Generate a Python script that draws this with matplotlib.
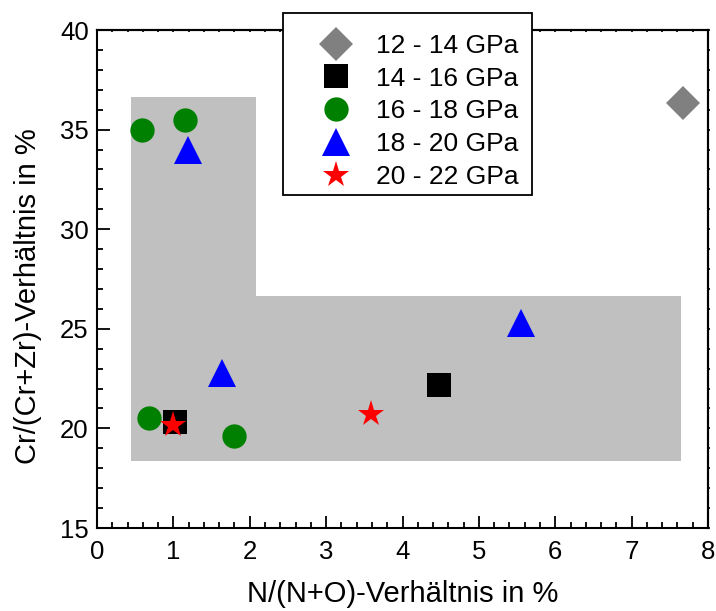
import matplotlib
matplotlib.use("Agg")
import matplotlib.pyplot as plt
from matplotlib.patches import Polygon, Rectangle
from matplotlib.ticker import MultipleLocator, NullFormatter

plt.rcParams['font.family'] = ['Liberation Sans', 'DejaVu Sans']

# Composition ratios (N/(N+O) in %, Cr/(Cr+Zr) in %) grouped by hardness range
labels = ["12 - 14 GPa", "14 - 16 GPa", "16 - 18 GPa", "18 - 20 GPa", "20 - 22 GPa"]
x_12_14 = [7.67]
y_12_14 = [36.35]
x_14_16 = [1.02, 4.48]
y_14_16 = [20.3, 22.2]
x_16_18 = [0.59, 1.15, 0.68, 1.79]
y_16_18 = [35.0, 35.5, 20.5, 19.6]
x_18_20 = [1.19, 1.64, 5.55]
y_18_20 = [34.0, 22.8, 25.3]
x_20_22 = [0.99, 3.59]
y_20_22 = [20.15, 20.7]

# Outline of the shaded region
region_x = [0.44, 2.08, 2.08, 7.64, 7.64, 0.44]
region_y = [36.65, 36.65, 26.65, 26.65, 18.35, 18.35]

W, H = 716, 611
fig = plt.figure(figsize=(W / 100, H / 100), dpi=100)
ax = fig.add_axes([97 / W, 1 - 528 / H, (708 - 97) / W, (528 - 30) / H])

ax.add_patch(Polygon(list(zip(region_x, region_y)), closed=True,
                     facecolor="#c0c0c0", edgecolor="none", zorder=1))

ax.plot(x_12_14, y_12_14, "D", color="#808080", ms=17.5, mew=0, ls="none", label=labels[0], zorder=3)
ax.plot(x_14_16, y_14_16, "s", color="black", ms=17, mew=0, ls="none", label=labels[1], zorder=3)
ax.plot(x_16_18, y_16_18, "o", color="green", ms=17.5, mew=0, ls="none", label=labels[2], zorder=3)
ax.plot(x_18_20, y_18_20, "^", color="blue", ms=19.5, mew=0, ls="none", label=labels[3], zorder=3)
ax.plot(x_20_22, y_20_22, "*", color="red", ms=19.5, mew=0, ls="none", label=labels[4], zorder=4)

ax.set_xlim(0, 8)
ax.set_ylim(15, 40)
ax.xaxis.set_major_locator(MultipleLocator(1))
ax.xaxis.set_minor_locator(MultipleLocator(0.2))
ax.yaxis.set_major_locator(MultipleLocator(5))
ax.yaxis.set_minor_locator(MultipleLocator(1))

ax.tick_params(which="both", direction="in", width=1.3, labelsize=18.5, colors="black")
ax.tick_params(which="major", length=9)
ax.tick_params(which="minor", length=4.5)
ax.tick_params(axis="x", which="major", pad=8.5)
ax.tick_params(axis="y", which="major", pad=6)
for s in ax.spines.values():
    s.set_linewidth(1.5)

# Short ticks along the top and right edges
top = ax.secondary_xaxis("top")
top.xaxis.set_major_locator(MultipleLocator(1))
top.xaxis.set_minor_locator(MultipleLocator(0.2))
top.xaxis.set_major_formatter(NullFormatter())
top.tick_params(which="both", direction="in", length=1.5, width=1.2)
right = ax.secondary_yaxis("right")
right.yaxis.set_major_locator(MultipleLocator(5))
right.yaxis.set_minor_locator(MultipleLocator(1))
right.yaxis.set_major_formatter(NullFormatter())
right.tick_params(which="both", direction="out", length=1.5, width=1.2)
for sec in (top, right):
    for s in sec.spines.values():
        s.set_linewidth(1.5)

ax.set_xlabel("N/(N+O)-Verhältnis in %", fontsize=21)
ax.set_ylabel("Cr/(Cr+Zr)-Verhältnis in %", fontsize=21)
ax.xaxis.set_label_coords(0.5, (528 - 580) / 498)
ax.yaxis.set_label_coords((42 - 97) / 611, (528 - 296) / 498)

# Legend entries without their own frame; the box is drawn separately
fs_px = 19 * 100 / 72
hl = 2.0
leg = ax.legend(loc="upper left",
                bbox_to_anchor=((336 - hl * fs_px / 2) / W, 1 - 34 / H),
                bbox_transform=fig.transFigure, fontsize=19, frameon=False,
                borderpad=0, handletextpad=0.52, labelspacing=0.33,
                borderaxespad=0, markerscale=1.0, handlelength=hl)
leg.set_zorder(6)
ax.add_patch(Rectangle((283 / W, 1 - 195 / H), (532 - 283) / W, (195 - 13) / H,
                       transform=fig.transFigure, facecolor="white",
                       edgecolor="black", linewidth=1.3, zorder=5, clip_on=False))

fig.savefig("out.png", dpi=100)
